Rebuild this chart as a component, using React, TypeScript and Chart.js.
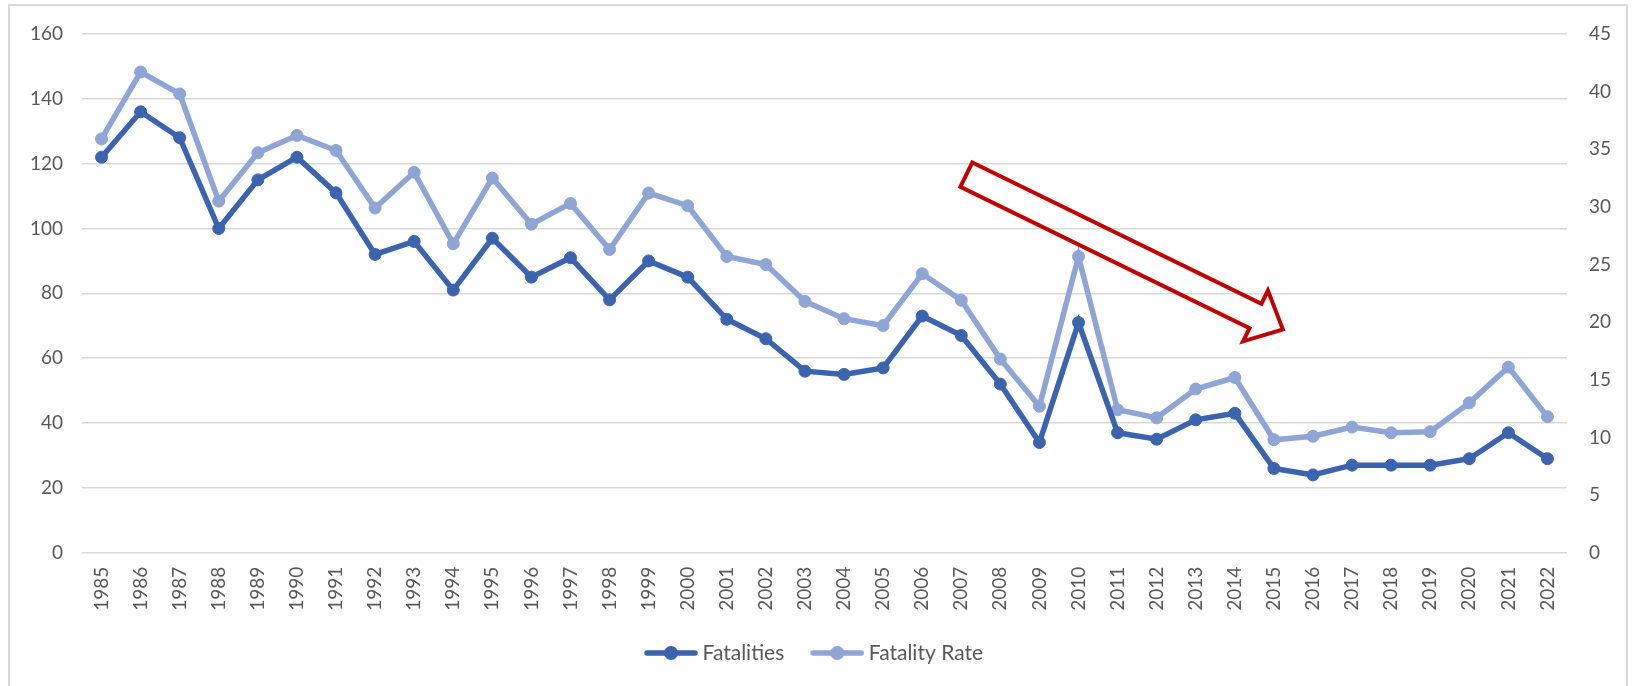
import React, { useEffect, useRef } from "react";
import { Chart, registerables } from "chart.js";

Chart.register(...registerables);

const YEARS = [
  "1985", "1986", "1987", "1988", "1989", "1990", "1991", "1992", "1993", "1994",
  "1995", "1996", "1997", "1998", "1999", "2000", "2001", "2002", "2003", "2004",
  "2005", "2006", "2007", "2008", "2009", "2010", "2011", "2012", "2013", "2014",
  "2015", "2016", "2017", "2018", "2019", "2020", "2021", "2022",
];

const FATALITIES = [
  122, 136, 128, 100, 115, 122, 111, 92, 96, 81,
  97, 85, 91, 78, 90, 85, 72, 66, 56, 55,
  57, 73, 67, 52, 34, 71, 37, 35, 41, 43,
  26, 24, 27, 27, 27, 29, 37, 29,
];

const FATALITY_RATE = [
  35.9, 41.7, 39.8, 30.5, 34.7, 36.2, 34.9, 29.9, 33.0, 26.8,
  32.5, 28.5, 30.3, 26.3, 31.2, 30.1, 25.7, 25.0, 21.8, 20.3,
  19.7, 24.2, 21.9, 16.8, 12.7, 25.7, 12.4, 11.7, 14.2, 15.2,
  9.8, 10.1, 10.9, 10.4, 10.5, 13.0, 16.1, 11.8,
];

const LEFT_AXIS = { min: 0, max: 160, step: 20 };
const RIGHT_AXIS = { min: 0, max: 45, step: 5 };

// Trend arrow, in data space: x = category index, y = left-axis value
const ARROW_TAIL = { x: 22.13, y: 116.6 };
const ARROW_TIP = { x: 30.23, y: 68.9 };

const DARK_BLUE = "#3C64AE";
const LIGHT_BLUE = "#8FA5D6";
const TEXT = "#595959";
const GRID = "#d9d9d9";
const FONT = "Lato, 'Open Sans', sans-serif";

function makeMarker(color: string): HTMLCanvasElement {
  const c = document.createElement("canvas");
  c.width = 54;
  c.height = 16;
  const ctx = c.getContext("2d")!;
  ctx.strokeStyle = color;
  ctx.lineWidth = 5.5;
  ctx.lineCap = "round";
  ctx.beginPath();
  ctx.moveTo(3, 8);
  ctx.lineTo(51, 8);
  ctx.stroke();
  ctx.fillStyle = color;
  ctx.beginPath();
  ctx.arc(27, 8, 7, 0, Math.PI * 2);
  ctx.fill();
  return c;
}

const arrowPlugin = {
  id: "trendArrow",
  afterDatasetsDraw(chart: any) {
    const xs = chart.scales.x;
    const ys = chart.scales.y;
    const tx = xs.getPixelForValue(ARROW_TAIL.x);
    const ty = ys.getPixelForValue(ARROW_TAIL.y);
    const px = xs.getPixelForValue(ARROW_TIP.x);
    const py = ys.getPixelForValue(ARROW_TIP.y);
    const dx = px - tx;
    const dy = py - ty;
    const len = Math.hypot(dx, dy);
    const ux = dx / len;
    const uy = dy / len;
    const nx = -uy;
    const ny = ux;
    const shaft = 13.6;
    const head = 28.3;
    const headLen = 30.5;
    const hx = px - ux * headLen;
    const hy = py - uy * headLen;
    const pts = [
      [tx - nx * shaft, ty - ny * shaft],
      [hx - nx * shaft, hy - ny * shaft],
      [hx - nx * head, hy - ny * head],
      [px, py],
      [hx + nx * head, hy + ny * head],
      [hx + nx * shaft, hy + ny * shaft],
      [tx + nx * shaft, ty + ny * shaft],
    ];
    const ctx = chart.ctx;
    ctx.save();
    ctx.strokeStyle = "#C00000";
    ctx.lineWidth = 4;
    ctx.lineJoin = "miter";
    ctx.beginPath();
    pts.forEach(([x, y], i) => (i === 0 ? ctx.moveTo(x, y) : ctx.lineTo(x, y)));
    ctx.closePath();
    ctx.stroke();
    ctx.restore();
  },
};

export default function App() {
  const ref = useRef<HTMLCanvasElement | null>(null);

  useEffect(() => {
    if (!ref.current) return;
    const markers = [makeMarker(DARK_BLUE), makeMarker(LIGHT_BLUE)];
    const chart = new Chart(ref.current, {
      type: "line",
      data: {
        labels: YEARS,
        datasets: [
          {
            label: "Fatalities",
            data: FATALITIES,
            yAxisID: "y",
            borderColor: DARK_BLUE,
            backgroundColor: DARK_BLUE,
            borderWidth: 5.5,
            pointRadius: 6,
            pointBorderWidth: 1,
            pointBackgroundColor: DARK_BLUE,
            pointBorderColor: DARK_BLUE,
            tension: 0,
            order: 1,
          },
          {
            label: "Fatality Rate",
            data: FATALITY_RATE,
            yAxisID: "y1",
            borderColor: LIGHT_BLUE,
            backgroundColor: LIGHT_BLUE,
            borderWidth: 5.5,
            pointRadius: 6,
            pointBorderWidth: 1,
            pointBackgroundColor: LIGHT_BLUE,
            pointBorderColor: LIGHT_BLUE,
            tension: 0,
            order: 2,
          },
        ],
      },
      options: {
        responsive: false,
        animation: false,
        devicePixelRatio: 1,
        layout: { padding: { top: 34, bottom: 12.5, left: 0, right: 0 } },
        plugins: {
          tooltip: { enabled: false },
          legend: {
            position: "bottom",
            labels: {
              usePointStyle: true,
              pointStyleWidth: 42,
              boxHeight: 14,
              padding: 32,
              color: TEXT,
              font: { family: FONT, size: 21 },
              generateLabels: (c: any) => {
                const items = Chart.defaults.plugins.legend.labels.generateLabels(c);
                return items.map((it: any, i: number) => ({ ...it, pointStyle: markers[i] }));
              },
            },
          },
        },
        scales: {
          x: {
            type: "category",
            offset: true,
            grid: { display: false, drawTicks: false },
            border: { display: false },
            ticks: {
              autoSkip: false,
              minRotation: 90,
              maxRotation: 90,
              padding: 14,
              color: TEXT,
              font: { family: FONT, size: 19 },
            },
            afterFit: (s: any) => {
              s.height = 57.8;
            },
          },
          y: {
            position: "left",
            min: LEFT_AXIS.min,
            max: LEFT_AXIS.max,
            grid: { color: GRID, lineWidth: 1.5, drawTicks: false },
            border: { display: false },
            ticks: {
              stepSize: LEFT_AXIS.step,
              padding: 19,
              color: TEXT,
              font: { family: FONT, size: 19 },
            },
            afterFit: (s: any) => {
              s.width = 82;
            },
          },
          y1: {
            position: "right",
            min: RIGHT_AXIS.min,
            max: RIGHT_AXIS.max,
            grid: { drawOnChartArea: false, drawTicks: false },
            border: { display: false },
            ticks: {
              stepSize: RIGHT_AXIS.step,
              padding: 22,
              color: TEXT,
              font: { family: FONT, size: 19 },
            },
            afterFit: (s: any) => {
              s.width = 66;
            },
          },
        },
      },
      plugins: [arrowPlugin],
    });
    return () => chart.destroy();
  }, []);

  return (
    <div style={{ position: "fixed", left: 0, top: 0, width: 1633, height: 686, background: "#fff", overflow: "hidden" }}>
      <div
        style={{
          position: "absolute",
          left: 8,
          top: 4,
          width: 1620,
          height: 720,
          boxSizing: "border-box",
          border: "2px solid #d9d9d9",
        }}
      />
      <canvas ref={ref} width={1633} height={686} style={{ position: "absolute", left: 0, top: 0, width: 1633, height: 686 }} />
    </div>
  );
}
